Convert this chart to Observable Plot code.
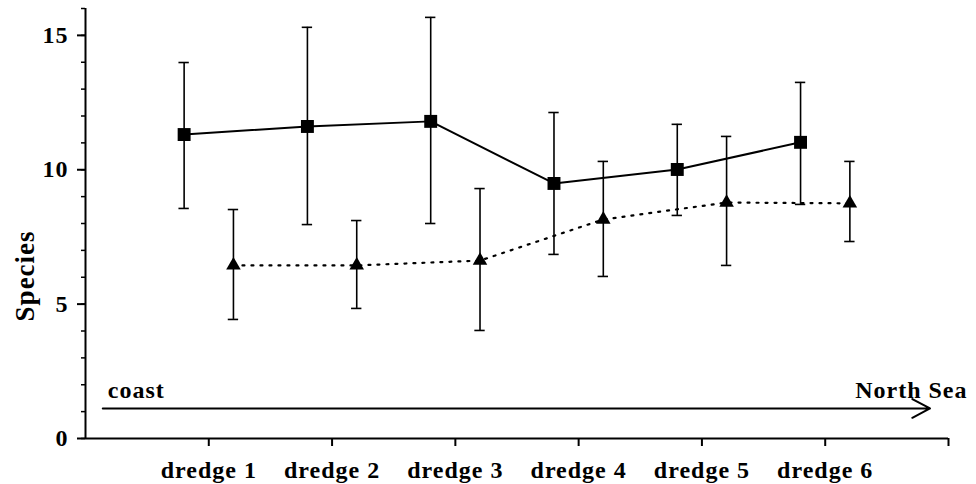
<!DOCTYPE html>
<html><head><meta charset="utf-8">
<script src="https://cdn.jsdelivr.net/npm/d3@7"></script>
<script src="https://cdn.jsdelivr.net/npm/@observablehq/plot@0.6"></script>
<style>
html,body{margin:0;padding:0;background:#fff;}
#chart svg text{letter-spacing:1px;}
</style></head><body><div id="chart"></div>
<script>
// Categories and tick labels
const dredges = ["dredge 1", "dredge 2", "dredge 3", "dredge 4", "dredge 5", "dredge 6"];
const dredgeIndex = [1, 2, 3, 4, 5, 6];
const xTicks = [1, 2, 3, 4, 5, 6, 7];
const yMajorTicks = [0, 5, 10, 15];
const yMinorTicks = d3.range(0, 17);
const xDomain = [0, 7];
const yDomain = [0, 16];

// Series 1 (squares, solid line)
const squareMean = [11.31, 11.61, 11.80, 9.49, 10.01, 11.02];
const squareHigh = [13.99, 15.30, 15.67, 12.13, 11.69, 13.25];
const squareLow  = [8.56, 7.96, 8.00, 6.85, 8.30, 8.71];
// Series 2 (triangles, dotted line)
const triMean = [6.44, 6.44, 6.62, 8.15, 8.78, 8.75];
const triHigh = [8.52, 8.11, 9.30, 10.31, 11.24, 10.31];
const triLow  = [4.43, 4.84, 4.02, 6.03, 6.44, 7.33];
const seriesOffset = 0.2;

// Annotation: coast -> North Sea arrow
const yLabel = "Species";
const yLabelAt = 6.05;
const arrowFrom = 0.14, arrowTo = 6.85, arrowLevel = 1.12;
const arrowLabels = ["coast", "North Sea"];

const sq = dredgeIndex.map((d, i) => ({x: d - seriesOffset, mean: squareMean[i], hi: squareHigh[i], lo: squareLow[i]}));
const tr = dredgeIndex.map((d, i) => ({x: d + seriesOffset, mean: triMean[i], hi: triHigh[i], lo: triLow[i]}));
const cap = 0.042;

const errorMarks = (data) => [
  Plot.ruleX(data, {x: "x", y1: "lo", y2: "hi", strokeWidth: 1.6}),
  Plot.ruleY(data, {y: "hi", x1: d => d.x - cap, x2: d => d.x + cap, strokeWidth: 1.6}),
  Plot.ruleY(data, {y: "lo", x1: d => d.x - cap, x2: d => d.x + cap, strokeWidth: 1.6})
];

const chart = Plot.plot({
  width: 976, height: 484,
  marginLeft: 85, marginRight: 28, marginTop: 8, marginBottom: 46,
  x: {domain: xDomain, axis: null},
  y: {domain: yDomain, axis: null},
  style: {fontFamily: "'Liberation Serif', 'Times New Roman', serif", fontWeight: "bold", fontSize: "24px", color: "black", background: "white", overflow: "visible"},
  marks: [
    Plot.ruleY([0], {x1: xDomain[0], x2: xDomain[1], strokeWidth: 2}),
    Plot.ruleX([0], {y1: yDomain[0], y2: yDomain[1], strokeWidth: 2}),
    Plot.axisX({ticks: xTicks, tickSize: 8, tickPadding: 14, tickFormat: d => dredges[d - 1] ?? "", label: null, strokeWidth: 2}),
    Plot.axisY({ticks: yMajorTicks, tickSize: 8, tickPadding: 9, label: null, strokeWidth: 2}),
    Plot.axisY({ticks: yMinorTicks, tickSize: 4, tickFormat: () => "", label: null, strokeWidth: 1.5}),
    ...errorMarks(sq),
    ...errorMarks(tr),
    Plot.line(sq, {x: "x", y: "mean", strokeWidth: 2}),
    Plot.line(tr, {x: "x", y: "mean", strokeWidth: 2.2, strokeDasharray: "2,7"}),
    Plot.dot(sq, {x: "x", y: "mean", symbol: "square", r: 7.3, fill: "black", stroke: null}),
    Plot.dot(tr, {x: "x", y: "mean", symbol: "triangle", r: 5.4, fill: "black", stroke: null}),
    Plot.arrow([0], {x1: arrowFrom, x2: arrowTo, y1: arrowLevel, y2: arrowLevel, headLength: 15, headAngle: 56, strokeWidth: 2}),
    Plot.text([arrowLabels[0]], {x: arrowFrom, y: arrowLevel, text: d => d, textAnchor: "start", lineAnchor: "bottom", dx: 5, dy: -10}),
    Plot.text([arrowLabels[1]], {frameAnchor: "right", y: arrowLevel, text: d => d, textAnchor: "end", lineAnchor: "bottom", dx: 19, dy: -10}),
    Plot.text([yLabel], {frameAnchor: "left", y: yLabelAt, text: d => d, rotate: -90, textAnchor: "middle", lineAnchor: "middle", dx: -60, fontSize: 27})
  ]
});
document.getElementById("chart").appendChild(chart);
</script></body></html>
